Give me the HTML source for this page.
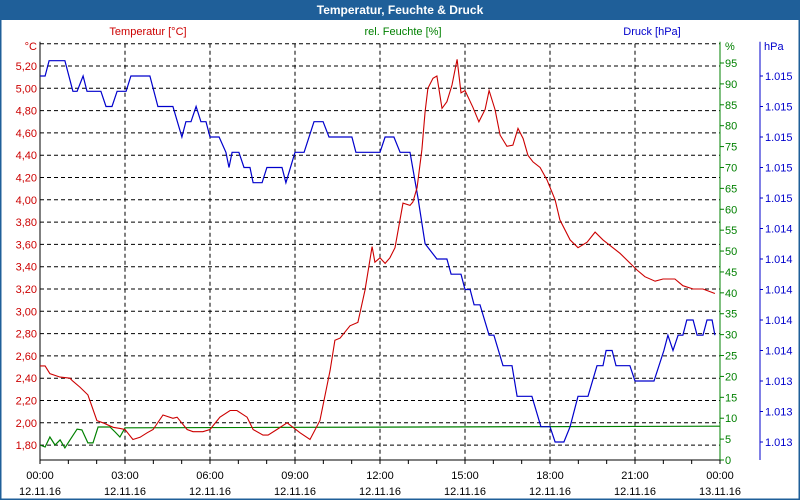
<!DOCTYPE html>
<html><head><meta charset="utf-8">
<style>
html,body{margin:0;padding:0;background:#fff;}
#wrap{position:relative;width:800px;height:500px;overflow:hidden;font-family:"Liberation Sans",sans-serif;}
svg text{font-family:"Liberation Sans",sans-serif;font-size:11px;}
</style></head>
<body>
<div id="wrap">
<svg id="chart" width="800" height="500" viewBox="0 0 800 500">
<rect x="0" y="0" width="800" height="500" fill="#ffffff"/>
<rect x="0" y="0" width="800" height="20" fill="#1f5f99"/>
<rect x="0.5" y="0.5" width="799" height="499" fill="none" stroke="#1f5f99" stroke-width="2"/>
<text x="400" y="14" text-anchor="middle" fill="#fff" font-weight="bold" style="font-size:12px">Temperatur, Feuchte &amp; Druck</text>
<text x="148" y="35" text-anchor="middle" fill="#cc0000">Temperatur [°C]</text>
<text x="403" y="35" text-anchor="middle" fill="#008000">rel. Feuchte [%]</text>
<text x="652" y="35" text-anchor="middle" fill="#0000cc">Druck [hPa]</text>
<g id="grid"></g>
<g id="axes"></g>
<g id="series"></g>
</svg>
</div>
<script>
// ---- data ----
const tempHours = [0,0.18,0.35,0.71,1.06,1.13,1.41,1.69,2.01,2.22,2.58,2.82,3.0,3.28,3.53,3.78,3.99,4.34,4.69,4.84,5.19,5.4,5.75,6.0,6.35,6.71,6.95,7.31,7.52,7.87,8.05,8.36,8.72,8.93,9.18,9.53,9.88,10.24,10.41,10.59,10.94,11.22,11.47,11.72,11.82,12.0,12.18,12.35,12.53,12.81,13.06,13.16,13.31,13.48,13.59,13.69,13.87,14.01,14.19,14.36,14.54,14.72,14.86,15.0,15.28,15.49,15.71,15.85,16.06,16.24,16.48,16.69,16.87,17.05,17.22,17.4,17.65,17.89,18.18,18.35,18.71,18.99,19.31,19.59,19.87,20.47,21.07,21.35,21.71,21.99,22.41,22.69,23.05,23.4,23.82];
const tempValues = [2.51,2.51,2.44,2.41,2.40,2.38,2.32,2.25,2.02,2.00,1.96,1.95,1.94,1.85,1.87,1.91,1.94,2.07,2.04,2.05,1.94,1.92,1.92,1.94,2.05,2.11,2.11,2.05,1.94,1.89,1.89,1.94,2.00,1.96,1.91,1.85,2.02,2.47,2.74,2.76,2.87,2.90,3.19,3.58,3.44,3.48,3.43,3.48,3.57,3.97,3.95,3.98,4.11,4.45,4.79,5.00,5.09,5.11,4.82,4.88,5.03,5.26,4.96,4.98,4.83,4.70,4.81,4.98,4.81,4.58,4.48,4.49,4.64,4.55,4.40,4.34,4.29,4.18,4.00,3.82,3.64,3.57,3.62,3.71,3.64,3.52,3.37,3.31,3.27,3.29,3.29,3.23,3.20,3.20,3.16];
const humHours = [0,0.18,0.35,0.53,0.71,0.88,1.06,1.31,1.48,1.69,1.87,2.05,2.47,2.65,2.82,3.0,24];
const humValues = [3.6,3.1,5.5,3.6,4.8,2.9,4.8,7.4,7.2,4.1,4.1,7.9,7.9,6.7,5.5,7.7,8.1];
const presHours = [0,0.18,0.32,0.88,1.16,1.31,1.52,1.66,2.15,2.33,2.54,2.72,3.04,3.21,3.88,4.16,4.69,5.01,5.15,5.33,5.51,5.68,5.86,6.0,6.32,6.56,6.67,6.78,7.02,7.2,7.41,7.52,7.84,8.01,8.54,8.68,9.0,9.32,9.67,9.99,10.2,11.01,11.15,12.0,12.18,12.49,12.71,13.06,13.34,13.59,14.01,14.36,14.51,14.86,15.0,15.18,15.32,15.53,15.85,16.02,16.34,16.66,16.84,17.36,17.68,18.0,18.18,18.49,18.71,18.99,19.34,19.66,19.87,19.98,20.19,20.33,20.82,21.0,21.67,22.02,22.16,22.34,22.52,22.69,22.83,23.05,23.19,23.4,23.54,23.72,23.82];
const presValues = [1015.4,1015.4,1015.5,1015.5,1015.3,1015.3,1015.4,1015.3,1015.3,1015.2,1015.2,1015.3,1015.3,1015.4,1015.4,1015.2,1015.2,1015.0,1015.1,1015.1,1015.2,1015.1,1015.1,1015.0,1015.0,1014.9,1014.8,1014.9,1014.9,1014.8,1014.8,1014.7,1014.7,1014.8,1014.8,1014.7,1014.9,1014.9,1015.1,1015.1,1015.0,1015.0,1014.9,1014.9,1015.0,1015.0,1014.9,1014.9,1014.6,1014.3,1014.2,1014.2,1014.1,1014.1,1014.0,1014.0,1013.9,1013.9,1013.7,1013.7,1013.5,1013.5,1013.3,1013.3,1013.1,1013.1,1013.0,1013.0,1013.1,1013.3,1013.3,1013.5,1013.5,1013.6,1013.6,1013.5,1013.5,1013.4,1013.4,1013.6,1013.7,1013.6,1013.7,1013.7,1013.8,1013.8,1013.7,1013.7,1013.8,1013.8,1013.7];
const tempTicks = [5.20,5.00,4.80,4.60,4.40,4.20,4.00,3.80,3.60,3.40,3.20,3.00,2.80,2.60,2.40,2.20,2.00,1.80];
const humTicks = [95,90,85,80,75,70,65,60,55,50,45,40,35,30,25,20,15,10,5,0];
const presTicks = [1015.4,1015.2,1015.0,1014.8,1014.6,1014.4,1014.2,1014.0,1013.8,1013.6,1013.4,1013.2,1013.0];
const timeTicks = [0,3,6,9,12,15,18,21,24];
const timeLabels = ["00:00","03:00","06:00","09:00","12:00","15:00","18:00","21:00","00:00"];
const dateLabels = ["12.11.16","12.11.16","12.11.16","12.11.16","12.11.16","12.11.16","12.11.16","12.11.16","13.11.16"];

// ---- scales ----
const X0=40, X1=720, YB=460;
function xS(h){return X0+(h/24)*(X1-X0);}
function yT(t){return 66+(5.2-t)/0.2*22.3;}
function yH(v){return 460-(v/95)*397;}
function yP(p){return 76+(1015.4-p)*152.5;}

const NS="http://www.w3.org/2000/svg";
function mk(tag,attrs,parent,txt){const e=document.createElementNS(NS,tag);for(const k in attrs)e.setAttribute(k,attrs[k]);if(txt!==undefined)e.textContent=txt;parent.appendChild(e);return e;}
const grid=document.getElementById('grid'), axes=document.getElementById('axes'), ser=document.getElementById('series');

// horizontal gridlines (incl. top)
[5.4].concat(tempTicks).forEach(t=>{
  const l=mk('line',{x1:X0,x2:X1,y1:yT(t),y2:yT(t),stroke:'#000','stroke-dasharray':'4,3','stroke-width':1},grid);
  
  
});
timeTicks.slice(1,-1).forEach(h=>{
  const l=mk('line',{x1:xS(h),x2:xS(h),y1:yT(5.4),y2:YB,stroke:'#000','stroke-dasharray':'4,3','stroke-width':1},grid);
  
  
});

// axes lines
let a=mk('line',{x1:X0,x2:X0,y1:yT(5.4)-2,y2:YB,stroke:'#000'},axes);


a=mk('line',{x1:X0,x2:X1,y1:YB,y2:YB,stroke:'#000'},axes);


a=mk('line',{x1:X1,x2:X1,y1:yT(5.4)-2,y2:YB,stroke:'#008000'},axes);


a=mk('line',{x1:760,x2:760,y1:yT(5.4)-2,y2:YB,stroke:'#0000cc'},axes);



// temperature labels
let u=mk('text',{x:37,y:50,'text-anchor':'end',fill:'#cc0000'},axes,'°C');


tempTicks.forEach(t=>{
  const e=mk('text',{x:37,y:yT(t)+4,'text-anchor':'end',fill:'#cc0000'},axes,t.toFixed(2).replace('.',','));
  
  
});
u=mk('text',{x:725,y:50,fill:'#008000'},axes,'%');


humTicks.forEach(v=>{
  const tk=mk('line',{x1:X1,x2:X1+4,y1:yH(v),y2:yH(v),stroke:'#008000'},axes);
  
  
  const e=mk('text',{x:725,y:yH(v)+4,fill:'#008000'},axes,String(v));
  
  
});
u=mk('text',{x:764,y:50,fill:'#0000cc'},axes,'hPa');


presTicks.forEach(p=>{
  const tk=mk('line',{x1:760,x2:763,y1:yP(p),y2:yP(p),stroke:'#0000cc'},axes);
  
  
  const r=Math.round(p);
  const e=mk('text',{x:765,y:yP(p)+4,fill:'#0000cc'},axes,Math.floor(r/1000)+'.'+String(r%1000).padStart(3,'0'));
  
  
});
for(let h=0;h<=24;h++){
  const tk=mk('line',{x1:xS(h),x2:xS(h),y1:YB,y2:YB+4,stroke:'#000'},axes);
  
  
}
timeTicks.forEach((h,i)=>{
  const e=mk('text',{x:xS(h),y:479,'text-anchor':'middle',fill:'#000'},axes,timeLabels[i]);
  
  
  const d=mk('text',{x:xS(h),y:495,'text-anchor':'middle',fill:'#000'},axes,dateLabels[i]);
  
  
});

// series
function pts(hs,vs,ys){return hs.map((h,i)=>xS(h).toFixed(1)+','+ys(vs[i]).toFixed(1)).join(' ');}
let s=mk('polyline',{points:pts(humHours,humValues,yH),fill:'none',stroke:'#008000','stroke-width':1.2},ser);


s=mk('polyline',{points:pts(presHours,presValues,yP),fill:'none',stroke:'#0000cc','stroke-width':1.2},ser);


s=mk('polyline',{points:pts(tempHours,tempValues,yT),fill:'none',stroke:'#cc0000','stroke-width':1.1},ser);


</script>
</body></html>
